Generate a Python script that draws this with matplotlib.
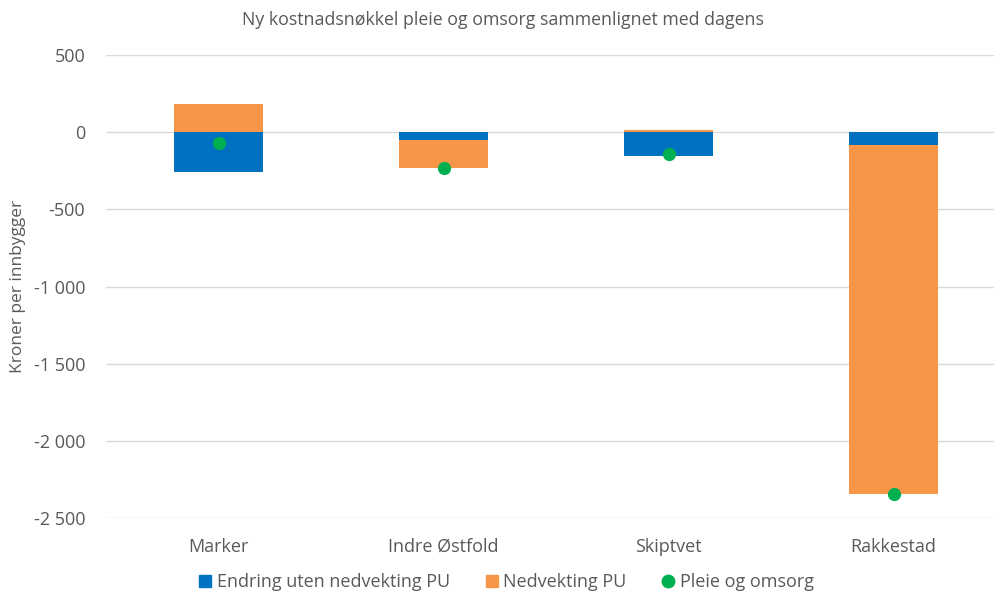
import matplotlib
matplotlib.use("Agg")
import matplotlib.pyplot as plt
import numpy as np
from matplotlib.lines import Line2D

categories = ["Marker", "Indre Østfold", "Skiptvet", "Rakkestad"]
endring = [-255, -50, -155, -82]
nedvekting = [185, -180, 17, -2258]
pleie = [-70, -230, -138, -2340]
yticks = [500, 0, -500, -1000, -1500, -2000, -2500]

BLUE = "#0070C0"
ORANGE = "#F79646"
GREEN = "#00B050"
GREY = "#595959"

plt.rcParams['font.family'] = ['Open Sans', 'DejaVu Sans']

fig = plt.figure(figsize=(9.94, 5.95), dpi=100)
ax = fig.add_axes([106/994, (595-518.3)/595, 900/994, (518.3-55)/595])

x = np.arange(len(categories))
w = 0.395
ax.bar(x, endring, width=w, color=BLUE, zorder=2)
bottoms = [e if (n < 0) == (e < 0) else 0 for e, n in zip(endring, nedvekting)]
ax.bar(x, nedvekting, width=w, bottom=bottoms, color=ORANGE, zorder=2)
ax.plot(x, pleie, 'o', color=GREEN, markersize=8.5, zorder=3, linestyle='none')

ax.set_xlim(-0.5, 3.5)
ax.set_ylim(-2500, 500)
ax.set_yticks(yticks)
ax.set_yticklabels([f"{v:,}".replace(",", " ") for v in yticks])
ax.grid(axis='y', color='#D9D9D9', linewidth=1, zorder=0)
for s in ax.spines.values():
    s.set_visible(False)
ax.tick_params(length=0, colors=GREY, labelsize=13)
ax.tick_params(axis='y', pad=15)
ax.tick_params(axis='x', pad=14)
ax.set_xticks(x)
ax.set_xticklabels(categories)
ax.set_ylabel("Kroner per innbygger", color=GREY, fontsize=12.5)
ax.yaxis.set_label_coords(-80/900, 0.5)

fig.text(503/994, 1 - 20/595, "Ny kostnadsnøkkel pleie og omsorg sammenlignet med dagens",
         ha='center', va='center', color=GREY, fontsize=12.8)

handles = [
    Line2D([], [], marker='s', color=BLUE, linestyle='none', markersize=9),
    Line2D([], [], marker='s', color=ORANGE, linestyle='none', markersize=9),
    Line2D([], [], marker='o', color=GREEN, linestyle='none', markersize=9),
]
labels = ["Endring uten nedvekting PU", "Nedvekting PU", "Pleie og omsorg"]
leg = fig.legend(handles, labels, loc='center', bbox_to_anchor=(506/994, 1 - 582/595),
                 ncol=3, frameon=False, fontsize=13, handletextpad=0.25, columnspacing=1.9,
                 handlelength=0.8, borderpad=0)
for t in leg.get_texts():
    t.set_color(GREY)

fig.savefig("out.png", dpi=100)
